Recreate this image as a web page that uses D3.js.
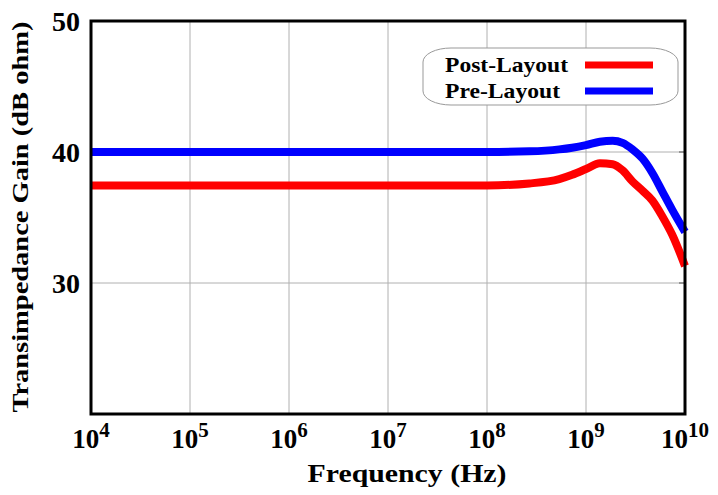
<!DOCTYPE html>
<html>
<head>
<meta charset="utf-8">
<script src="https://cdn.jsdelivr.net/npm/d3@7"></script>
<style>
  html, body { margin: 0; padding: 0; background: #fff; }
  svg text { font-family: "Liberation Serif", "Times New Roman", serif; font-weight: bold; fill: #000; }
</style>
</head>
<body>
<div id="chart"></div>
<script>
// frequency points (Hz)
var freq = [1e4, 1e5, 1e6, 1e7, 1e8, 2.69e8, 5.37e8, 7.24e8, 1e9, 1.38e9, 1.86e9,
            2.34e9, 2.95e9, 3.72e9, 4.68e9, 5.89e9, 7.41e9, 1e10];
// gain in dB ohm
var preLayout = [40.0, 40.0, 40.0, 40.0, 40.0, 40.05, 40.2, 40.33, 40.53, 40.78, 40.86,
                 40.7, 40.2, 39.5, 38.4, 37.0, 35.6, 33.9];
var postLayout = [37.45, 37.45, 37.45, 37.45, 37.45, 37.6, 37.93, 38.26, 38.7, 39.14, 39.07,
                  38.6, 37.75, 37.05, 36.3, 35.1, 33.7, 31.3];
var xTickExp = [4, 5, 6, 7, 8, 9, 10];
var yTicks = [30, 40, 50];
var yGrid = [30, 40];
var seriesNames = ['Post-Layout', 'Pre-Layout'];
var seriesColors = ['#ff0000', '#0000ff'];

var W = 718, H = 495;
var margin = { top: 21, right: 33, bottom: 81, left: 91 };
var width = W - margin.left - margin.right;
var height = H - margin.top - margin.bottom;

var svg = d3.select('#chart').append('svg')
  .attr('width', W).attr('height', H);
var g = svg.append('g')
  .attr('transform', 'translate(' + margin.left + ',' + margin.top + ')');

var x = d3.scaleLog().domain([1e4, 1e10]).range([0, width]);
var y = d3.scaleLinear().domain([20, 50]).range([height, 0]);

// grid
g.selectAll('.vgrid').data(xTickExp.slice(1, -1)).enter().append('line')
  .attr('x1', function (d) { return x(Math.pow(10, d)); })
  .attr('x2', function (d) { return x(Math.pow(10, d)); })
  .attr('y1', 0).attr('y2', height)
  .attr('stroke', '#b0b0b0').attr('stroke-width', 1);
g.selectAll('.hgrid').data(yGrid).enter().append('line')
  .attr('x1', 0).attr('x2', width)
  .attr('y1', function (d) { return y(d); })
  .attr('y2', function (d) { return y(d); })
  .attr('stroke', '#b0b0b0').attr('stroke-width', 1);
// small dark ticks at right edge
g.selectAll('.rtick').data(yGrid).enter().append('line')
  .attr('x1', width - 6).attr('x2', width)
  .attr('y1', function (d) { return y(d); })
  .attr('y2', function (d) { return y(d); })
  .attr('stroke', '#555').attr('stroke-width', 1);

// curves
var line = d3.line()
  .x(function (d) { return x(d[0]); })
  .y(function (d) { return y(d[1]); })
  .curve(d3.curveMonotoneX);
[postLayout, preLayout].forEach(function (vals, i) {
  g.append('path')
    .datum(freq.map(function (f, j) { return [f, vals[j]]; }))
    .attr('d', line)
    .attr('fill', 'none')
    .attr('stroke', seriesColors[i])
    .attr('stroke-width', 8)
    .attr('stroke-linejoin', 'round');
});

// frame
g.append('rect')
  .attr('x', 0).attr('y', 0).attr('width', width).attr('height', height)
  .attr('fill', 'none').attr('stroke', '#000').attr('stroke-width', 3);

// x tick labels 10^n
var xl = g.selectAll('.xlab').data(xTickExp).enter().append('text')
  .attr('x', function (d) { return x(Math.pow(10, d)); })
  .attr('y', height + 34)
  .attr('text-anchor', 'middle')
  .style('font-size', '27px');
xl.append('tspan').text('10');
xl.append('tspan').attr('dy', -11).style('font-size', '21px')
  .text(function (d) { return d; });

// y tick labels
g.selectAll('.ylab').data(yTicks).enter().append('text')
  .attr('x', -11)
  .attr('y', function (d) { return y(d); })
  .attr('dy', '0.35em')
  .attr('text-anchor', 'end')
  .style('font-size', '28px')
  .text(function (d) { return d; });

// axis titles
svg.append('text')
  .attr('x', 407).attr('y', 482)
  .attr('text-anchor', 'middle')
  .attr('textLength', 199).attr('lengthAdjust', 'spacingAndGlyphs')
  .style('font-size', '26px')
  .text('Frequency (Hz)');
svg.append('text')
  .attr('transform', 'translate(28,217) rotate(-90)')
  .attr('text-anchor', 'middle')
  .attr('textLength', 391).attr('lengthAdjust', 'spacingAndGlyphs')
  .style('font-size', '24px')
  .text('Transimpedance Gain (dB ohm)');

// legend
var leg = svg.append('g');
leg.append('rect')
  .attr('x', 423).attr('y', 48).attr('width', 255).attr('height', 57)
  .attr('rx', 28).attr('ry', 14)
  .attr('fill', '#fff').attr('stroke', '#999').attr('stroke-width', 1);
var legLen = [123, 115];
seriesNames.forEach(function (name, i) {
  var yy = 65 + i * 26;
  leg.append('text')
    .attr('x', 445).attr('y', yy + 7)
    .attr('textLength', legLen[i]).attr('lengthAdjust', 'spacingAndGlyphs')
    .style('font-size', '22px')
    .text(name);
  leg.append('line')
    .attr('x1', 585).attr('x2', 653)
    .attr('y1', yy).attr('y2', yy)
    .attr('stroke', seriesColors[i]).attr('stroke-width', 7);
});
</script>
</body>
</html>
